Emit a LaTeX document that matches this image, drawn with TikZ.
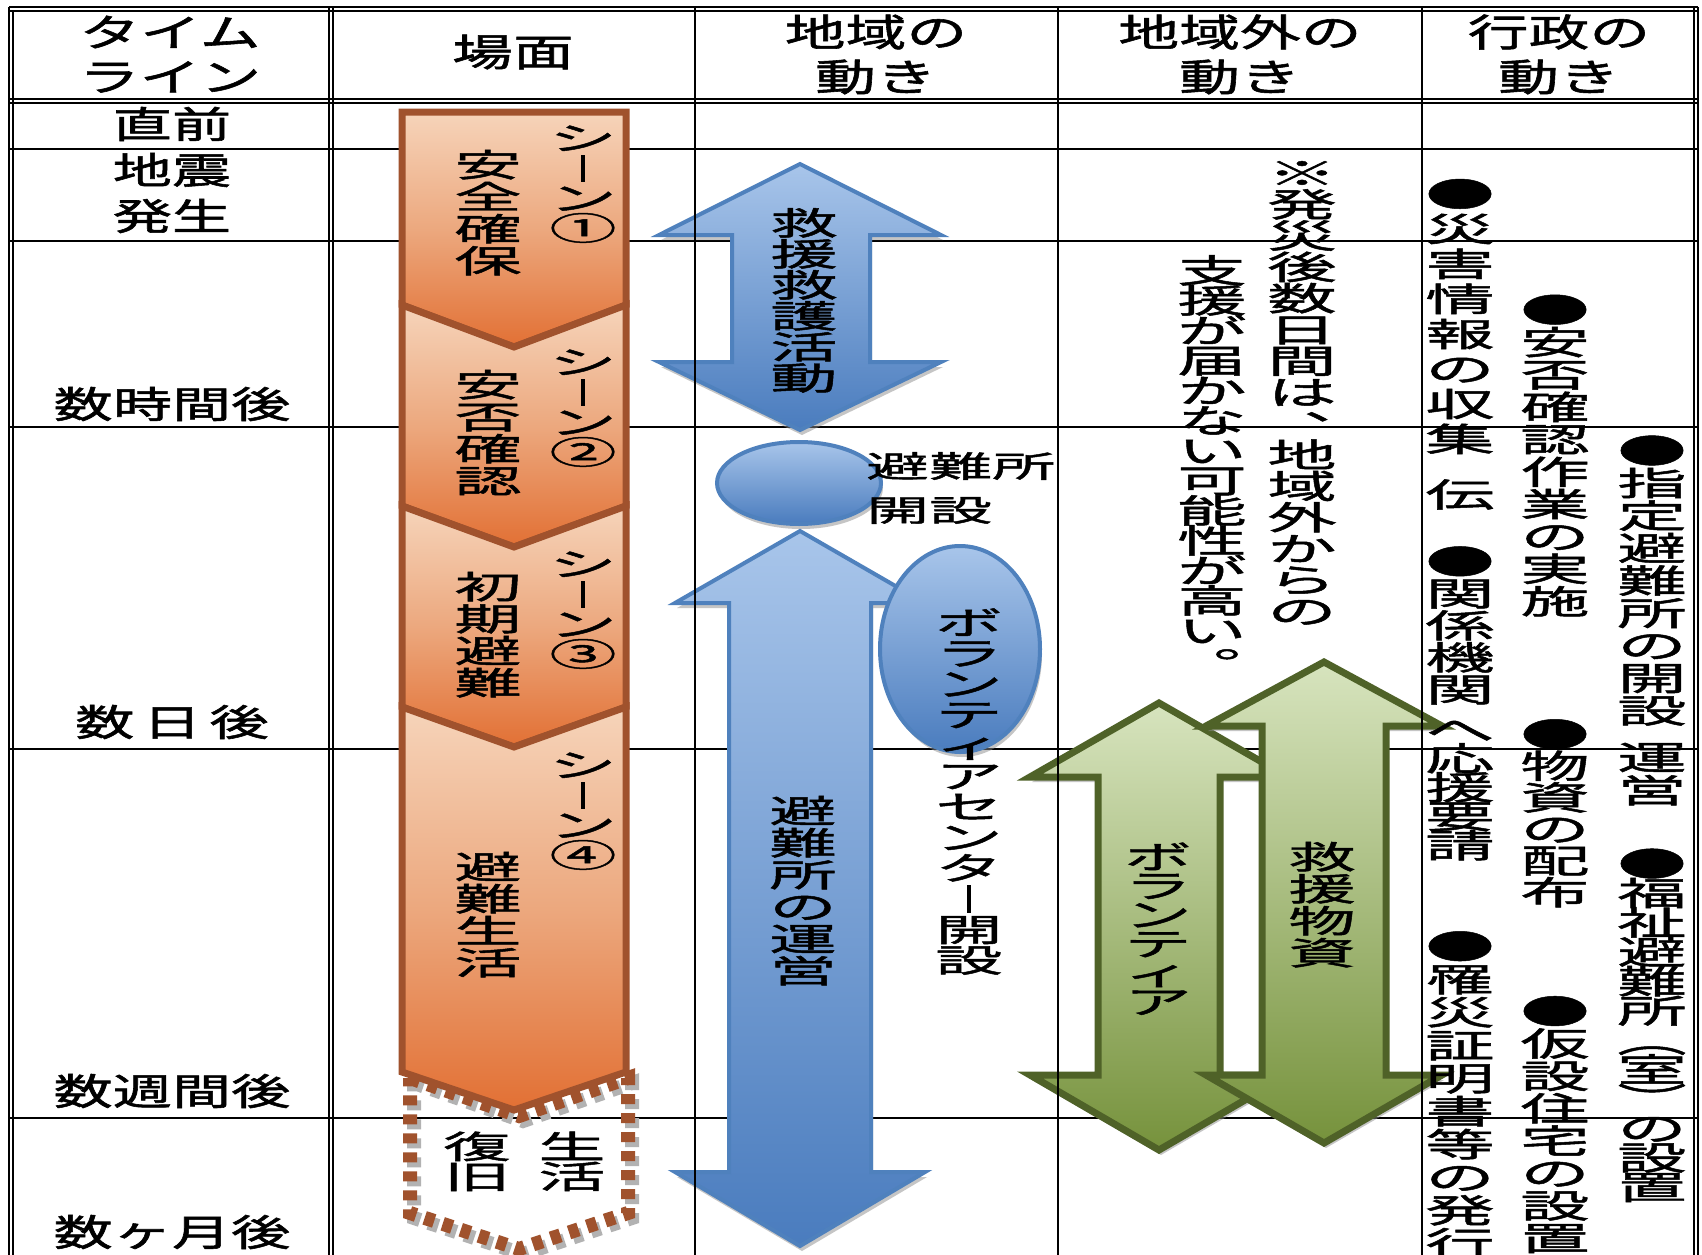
\documentclass[tikz,border=0pt]{standalone}
\usepackage{fontspec}
\usepackage{graphicx}
\usetikzlibrary{shadows,shapes.geometric}
\newfontfamily\jph[FakeStretch=1.6,FakeBold=1.5]{Noto Sans CJK JP}
\newfontfamily\jpv[FakeStretch=2.1,FakeBold=1.5]{Noto Sans CJK JP}
\definecolor{obrown}{RGB}{160,82,45}
\definecolor{otop}{RGB}{246,212,186}
\definecolor{omid}{RGB}{236,168,126}
\definecolor{obot}{RGB}{226,112,52}
\definecolor{bline}{RGB}{79,129,189}
\definecolor{btop}{RGB}{168,197,234}
\definecolor{bbot}{RGB}{74,124,190}
\definecolor{gline}{RGB}{79,98,40}
\definecolor{gtop}{RGB}{215,228,190}
\definecolor{gbot}{RGB}{118,146,60}
\newdimen\vtp
\def\vtend{\vtend}
\def\vtl#1{\ifx\vtend#1\else\hbox to 0pt{\hss\vrule width 0pt height .87\vtp depth .13\vtp\relax#1\hss}\expandafter\vtl\fi}
\newcommand\vt[2]{\vbox{\vtp=#1pt\relax\baselineskip=\vtp\lineskiplimit=-2000pt\lineskip=0pt\relax\vtl#2\vtend}}
\newcommand\VB{\vrule width 3.2pt height .84\vtp depth .06\vtp\relax}
\newcommand\TEN{\rlap{\kern.05\vtp\raisebox{.52\vtp}{、}}}
\newcommand\MARU{\rlap{\kern.05\vtp\raisebox{.52\vtp}{。}}}
\begin{document}
\begin{tikzpicture}[x=1pt,y=-1pt,
  tline/.style={line width=2pt,black},
  hd/.style={font=\jph\fontsize{38}{40}\selectfont,inner sep=0pt},
  rl/.style={font=\jph\fontsize{37}{40}\selectfont,inner sep=0pt},
  vtx/.style={font=\jpv\fontsize{32}{32}\selectfont,inner sep=0pt},
  vta/.style={font=\jpv\fontsize{33}{33}\selectfont,inner sep=0pt},
  obox/.style={draw=obrown,line width=7pt,line join=miter,top color=otop,bottom color=obot,middle color=omid},
  shad/.style={drop shadow={shadow xshift=2pt,shadow yshift=-5pt,fill=black!45,opacity=.5}},
  barrow/.style={draw=bline,line width=4pt,line join=miter,top color=btop,bottom color=bbot,shad},
  garrow/.style={draw=gline,line width=7pt,line join=miter,top color=gtop,bottom color=gbot,shad},
  bell/.style={ellipse,draw=bline,line width=4pt,top color=btop,bottom color=bbot,shad,inner sep=0pt},
  dashline/.style={line width=14pt,dash pattern=on 10pt off 9pt},
]
\useasboundingbox (0,0) rectangle (1702,1255);
\fill[white] (0,0) rectangle (1702,1255);
% horizontal table lines
\draw[tline] (9,7) -- (1698,7);
\draw[tline] (9,11) -- (1698,11);
\draw[tline] (9,99) -- (1698,99);
\draw[tline] (9,103) -- (1698,103);
\foreach \yy in {149,241,427,749,1118} \draw[tline] (9,\yy) -- (1698,\yy);
% scene column
\draw[dashline,black!30] (414,1083) -- (523,1121) -- (632,1083) -- (632,1218) -- (523,1254) -- (414,1218) -- cycle;
\draw[dashline,obrown] (410,1078) -- (519,1116) -- (628,1078) -- (628,1213) -- (519,1249) -- (410,1213) -- cycle;
\path[obox] (402,112) -- (626,112) -- (626,305) -- (514,347) -- (402,305) -- cycle;
\path[obox] (402,305) -- (514,347) -- (626,305) -- (626,506) -- (514,547) -- (402,506) -- cycle;
\path[obox] (402,506) -- (514,547) -- (626,506) -- (626,707) -- (514,747) -- (402,707) -- cycle;
\path[obox] (402,707) -- (514,747) -- (626,707) -- (626,1072) -- (514,1110) -- (402,1072) -- cycle;
% local column
\path[barrow] (800,164) -- (941,235) -- (870,235) -- (870,362) -- (941,362) -- (800,430) -- (659,362) -- (732,362) -- (732,235) -- (659,235) -- cycle;
\node[bell,minimum width=164pt,minimum height=82pt] (e1) at (799,483) {};
\path[barrow] (800,531) -- (925,603) -- (871,603) -- (871,1172) -- (925,1172) -- (800,1246) -- (675,1172) -- (729,1172) -- (729,603) -- (675,603) -- cycle;
\node[bell,minimum width=160pt,minimum height=206pt] (e2) at (960,649) {};
% outside column
\path[garrow] (1159,703) -- (1288,777) -- (1220,777) -- (1220,1075) -- (1288,1075) -- (1159,1150) -- (1030,1075) -- (1098,1075) -- (1098,777) -- (1030,777) -- cycle;
\path[garrow] (1324,662) -- (1442,726) -- (1386,726) -- (1386,1075) -- (1442,1075) -- (1324,1143) -- (1206,1075) -- (1262,1075) -- (1262,726) -- (1206,726) -- cycle;
% vertical table lines (on top)
\draw[tline] (9,7) -- (9,1255);
\draw[tline] (13,11) -- (13,1255);
\draw[tline] (329,7) -- (329,1255);
\draw[tline] (333,7) -- (333,1255);
\draw[tline,line width=2.5pt] (695,7) -- (695,1255);
\draw[tline,line width=2.5pt] (1058,7) -- (1058,1255);
\draw[tline,line width=2.5pt] (1422,7) -- (1422,1255);
\draw[tline] (1694,7) -- (1694,1255);
\draw[tline] (1698,7) -- (1698,1255);
% headers
\node[hd] (h1a) at (170,32) {タイム};
\node[hd] (h1b) at (170,77) {ライン};
\node[hd] (h2) at (513,52) {場面};
\node[hd] (h3a) at (876,32) {地域の};
\node[hd] (h3b) at (876,77) {動き};
\node[hd] (h4a) at (1240,32) {地域外の};
\node[hd] (h4b) at (1240,77) {動き};
\node[hd] (h5a) at (1559,32) {行政の};
\node[hd] (h5b) at (1559,77) {動き};
% row labels
\node[rl] (r0) at (172,124) {直前};
\node[rl] (r1a) at (172,170) {地震};
\node[rl] (r1b) at (172,216) {発生};
\node[rl] (r2) at (172,404) {数時間後};
\node[rl] (r3) at (172,722) {数\hspace{8pt}日\hspace{8pt}後};
\node[rl] (r4) at (172,1091) {数週間後};
\node[rl] (r5) at (172,1232) {数ヶ月後};
% scene texts
\node[vtx] (s1a) at (583,184) {\vt{30}{シ\VB ン①}};
\node[vtx] (s1b) at (488,213) {\vt{32}{安全確保}};
\node[vtx] (s2a) at (583,408) {\vt{30}{シ\VB ン②}};
\node[vtx] (s2b) at (488,433) {\vt{32}{安否確認}};
\node[vtx] (s3a) at (583,610) {\vt{30}{シ\VB ン③}};
\node[vtx] (s3b) at (488,635) {\vt{32}{初期避難}};
\node[vtx] (s4a) at (583,811) {\vt{30}{シ\VB ン④}};
\node[vtx] (s4b) at (488,915) {\vt{32}{避難生活}};
\node[vtx] (s5a) at (572,1162) {\vt{30}{生活}};
\node[vtx] (s5b) at (477,1162) {\vt{30}{復旧}};
% local texts
\node[vtx] (t1) at (804,301) {\vt{31}{救援救護活動}};
\node[font=\jpv\fontsize{30}{44}\selectfont,align=left,anchor=west,inner sep=0pt] (e1t) at (866,488) {避難所\\開設};
\node[vtx] (t2) at (803,891) {\vt{32}{避難所の運営}};
\node[vtx] (e2t) at (969,792) {\vt{30.7}{ボランティアセンタ\VB 開設}};
% outside texts
\node[vta] (n1) at (1302,393) {\vt{31.3}{※発災後数日間は\TEN 地域外からの}};
\node[vta] (n2) at (1212,466) {\vt{30}{支援が届かない可能性が高い\MARU}};
\node[vtx] (g1) at (1158,930) {\vt{29}{ボランティア}};
\node[vtx] (g2) at (1322,905) {\vt{32}{救援物資}};
% admin texts
\node[vta] (a1a) at (1460,316) {\vt{35}{●災害情報の収集}};
\node[vta] (a1b) at (1460,494) {\vt{35}{伝}};
\node[vta] (a1c) at (1460,626) {\vt{32}{●関係機関}};
\node[vta] (a1d) at (1460,789) {\vt{29}{へ応援要請}};
\node[vta] (a1e) at (1460,1095) {\vt{33}{●罹災証明書等の発行}};
\node[vta] (a2a) at (1555,456) {\vt{32.4}{●安否確認作業の実施}};
\node[vta] (a2b) at (1555,814) {\vt{31.6}{●物資の配布}};
\node[vta] (a2c) at (1555,1125) {\vt{32.4}{●仮設住宅の設置}};
\node[vta] (a3a) at (1652,581) {\vt{32.5}{●指定避難所の開設}};
\node[vta] (a3b) at (1652,774) {\vt{33}{運営}};
\node[vta] (a3c) at (1652,1026) {\vt{29.4}{●福祉避難所︵室︶の設置}};
\end{tikzpicture}
\end{document}
